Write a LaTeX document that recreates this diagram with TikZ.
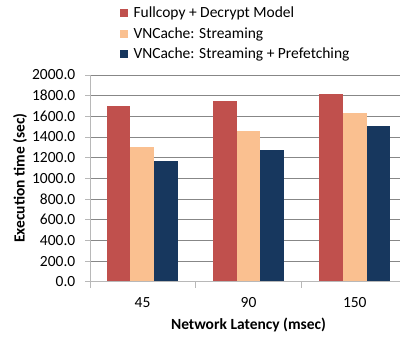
\documentclass[tikz,border=0pt]{standalone}
\usepackage{fontspec}
\setmainfont{Carlito}
\begin{document}
\begin{tikzpicture}[x=1pt,y=-1pt,
  lbl/.style={inner sep=0pt,font=\fontsize{15.5}{18}\selectfont},
  ttl/.style={inner sep=0pt,font=\fontsize{15.5}{18}\selectfont\bfseries},
  grid/.style={draw=black!47,line width=0.8pt},
  axis/.style={draw=black!28,line width=0.8pt},
  legsq/.style={minimum size=8pt,inner sep=0pt},
]
\definecolor{sred}{HTML}{C0504D}
\definecolor{speach}{HTML}{FAC090}
\definecolor{snavy}{HTML}{17375E}
\useasboundingbox (0,0) rectangle (402,337);
% y scale: 0 -> 281.7, 2000 -> 75
\pgfmathsetmacro{\yz}{281.7}
\pgfmathsetmacro{\ys}{(281.7-75)/2000}
% gridlines and y tick labels
\foreach \v/\s [count=\i] in {0/0.0,200/200.0,400/400.0,600/600.0,800/800.0,1000/1000.0,1200/1200.0,1400/1400.0,1600/1600.0,1800/1800.0,2000/2000.0}{
  \pgfmathsetmacro{\yy}{\yz-\v*\ys}
  \ifnum\v>0
    \draw[grid] (85,\yy) -- (400,\yy);
  \fi
  \node[lbl,anchor=east] (yt\i) at (75.5,\yy) {\s};
}
% bars
\foreach \c/\a/\b/\d [count=\k from 0] in {0/1700/1300/1171, 1/1748/1458/1274, 2/1814/1635/1506}{
  \pgfmathsetmacro{\xs}{89+106.3*\c+17.7}
  \fill[sred]   (\xs,\yz) rectangle ({\xs+23.7},{\yz-\a*\ys});
  \fill[speach] ({\xs+23.7},\yz) rectangle ({\xs+47.4},{\yz-\b*\ys});
  \fill[snavy]  ({\xs+47.4},\yz) rectangle ({\xs+71.1},{\yz-\d*\ys});
}
% axes
\draw[axis] (85,281.7) -- (400,281.7);
\draw[axis] (90,75) -- (90,288);
\foreach \t in {1,2}{
  \draw[axis] ({89+106.3*\t},281.7) -- ({89+106.3*\t},288);
}
% y ticks
\foreach \v in {0,200,...,2000}{
  \draw[axis] (85,{\yz-\v*\ys}) -- (90,{\yz-\v*\ys});
}
% x labels
\node[lbl] (x1) at (142.5,302.7) {45};
\node[lbl] (x2) at (248.5,302.7) {90};
\node[lbl] (x3) at (354.8,302.7) {150};
\node[ttl] (xt) at (248.5,325) {Network Latency (msec)};
\node[ttl,rotate=90] (yl) at (20,178) {Execution time (sec)};
% legend
\node[legsq,fill=sred] (l1) at (124.2,13) {};
\node[legsq,fill=speach] (l2) at (124.2,34.2) {};
\node[legsq,fill=snavy] (l3) at (124.2,54.5) {};
\node[lbl,anchor=west] (t1) at (133.3,13) {Fullcopy + Decrypt Model};
\node[lbl,anchor=west] (t2) at (133.3,34.2) {VNCache: Streaming};
\node[lbl,anchor=west] (t3) at (133.3,54.5) {VNCache: Streaming + Prefetching};
\end{tikzpicture}
\end{document}
